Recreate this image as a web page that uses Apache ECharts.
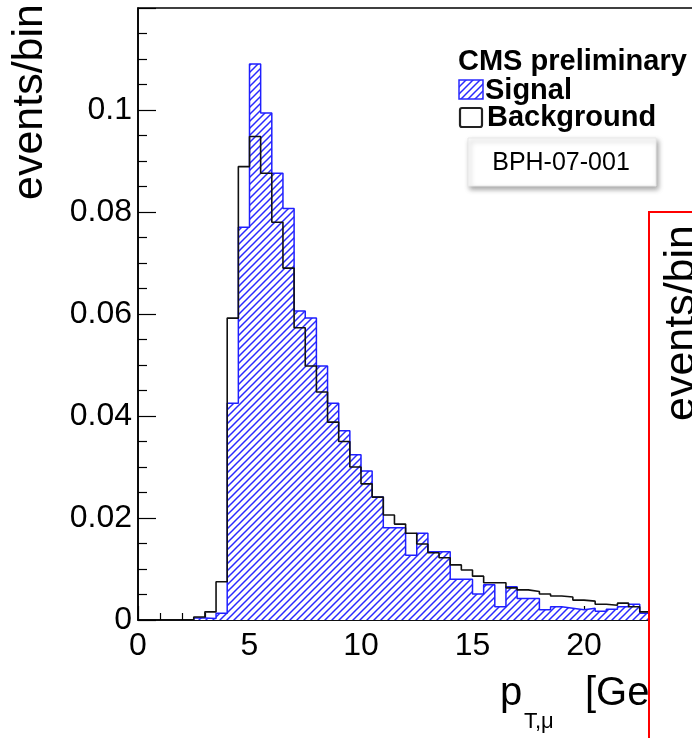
<!DOCTYPE html>
<html>
<head>
<meta charset="utf-8">
<script src="https://cdn.jsdelivr.net/npm/echarts@6/dist/echarts.min.js"></script>
<style>
html,body{margin:0;padding:0;background:#fff;overflow:hidden;width:692px;height:738px;}
#c{width:700px;height:738px;}
</style>
</head>
<body>
<div id="c"></div>
<script>
// ---- data ----
const binEdges = [2.5,3,3.5,4,4.5,5,5.5,6,6.5,7,7.5,8,8.5,9,9.5,10,10.5,11,11.5,12,12.5,13,13.5,14,14.5,15,15.5,16,16.5,17,17.5,18,18.5,19,19.5,20,20.5,21,21.5,22,22.5,23];
const signal = [0.0004,0.0003,0.0013,0.0425,0.077,0.109,0.0994,0.0876,0.0807,0.0606,0.0592,0.0498,0.0425,0.0371,0.0324,0.0292,0.0241,0.0181,0.0181,0.0127,0.0170,0.0134,0.0134,0.0080,0.0080,0.0051,0.0069,0.0026,0.0065,0.0042,0.0042,0.0020,0.0026,0.0023,0.0020,0.0023,0.0017,0.0021,0.0026,0.0031,0.0013];
const background = [0.0006,0.0016,0.0075,0.0592,0.0889,0.0948,0.0876,0.078,0.069,0.0573,0.0498,0.0447,0.0388,0.035,0.030,0.0267,0.0241,0.0206,0.0188,0.017,0.0149,0.0132,0.0122,0.0108,0.0098,0.0086,0.0073,0.0073,0.0063,0.0059,0.0056,0.0051,0.0047,0.0045,0.0039,0.0037,0.0031,0.0029,0.0033,0.0026,0.0016];
const xRange = [0, 25];
const xStep = 5;
const yRange = [0, 0.12];
const yStep = 0.02;
const legendTitle = 'CMS preliminary';
const seriesNames = ['Signal', 'Background'];
const tagText = 'BPH-07-001';
const yTitle = 'events/bin';

const FONT = "'Liberation Sans', Arial, sans-serif";

function histPoints(vals) {
  const pts = [[binEdges[0], 0]];
  vals.forEach((v, i) => pts.push([binEdges[i], v]));
  pts.push([binEdges[vals.length], 0]);
  return pts;
}

function makeHatch(color, size, lw) {
  const c = document.createElement('canvas');
  c.width = size; c.height = size;
  const ctx = c.getContext('2d');
  ctx.fillStyle = '#fff';
  ctx.fillRect(0, 0, size, size);
  ctx.strokeStyle = color; ctx.lineWidth = lw;
  ctx.beginPath();
  ctx.moveTo(-1, size + 1); ctx.lineTo(size + 1, -1);
  ctx.moveTo(-2, 2); ctx.lineTo(2, -2);
  ctx.moveTo(size - 2, size + 2); ctx.lineTo(size + 2, size - 2);
  ctx.stroke();
  return c;
}
const hatch = { image: makeHatch('#2a2aff', 7, 1.5), repeat: 'repeat' };

const chart = echarts.init(document.getElementById('c'), null, { renderer: 'canvas' });

const gridLeft = 138, gridTop = 8, gridW = 557.5, gridH = 612;

chart.setOption({
  animation: false,
  backgroundColor: '#fff',
  grid: { left: gridLeft, top: gridTop, width: gridW, height: gridH, outerBoundsMode: 'none', containLabel: false, show: true, borderColor: '#000', borderWidth: 1.6, backgroundColor: 'transparent' },
  xAxis: {
    type: 'value', min: xRange[0], max: xRange[1], interval: xStep,
    axisLine: { show: true, onZero: false, lineStyle: { color: '#000', width: 1.5 } },
    axisTick: { show: true, inside: true, length: 14, lineStyle: { color: '#000', width: 1.2 } },
    minorTick: { show: true, splitNumber: 5, length: 7, lineStyle: { color: '#000', width: 1.2 } },
    axisLabel: { color: '#000', fontSize: 32, fontFamily: FONT, margin: 10 },
    splitLine: { show: false }
  },
  yAxis: {
    type: 'value', min: yRange[0], max: yRange[1], interval: yStep,
    axisLine: { show: true, lineStyle: { color: '#000', width: 1.5 } },
    axisTick: { show: true, inside: true, length: 18, lineStyle: { color: '#000', width: 1.2 } },
    minorTick: { show: true, splitNumber: 4, length: 9, lineStyle: { color: '#000', width: 1.2 } },
    axisLabel: { color: '#000', fontSize: 32, fontFamily: FONT, margin: 6, showMaxLabel: false },
    splitLine: { show: false }
  },
  series: [
    {
      name: seriesNames[0], type: 'line', step: 'end', symbol: 'none',
      data: histPoints(signal),
      lineStyle: { color: '#1f1fff', width: 1.5 },
      areaStyle: { color: hatch, opacity: 1 },
      z: 2
    },
    {
      name: seriesNames[1], type: 'line', step: 'end', symbol: 'none',
      data: histPoints(background),
      lineStyle: { color: '#111', width: 1.6 },
      z: 3
    }
  ],
  graphic: [
    { type: 'text', z: 50, x: 458, y: 62, style: { text: legendTitle, font: "bold 29px " + FONT, fill: '#000', verticalAlign: 'middle' } },
    { type: 'rect', z: 50, shape: { x: 459, y: 80, width: 24, height: 19 }, style: { fill: hatch, stroke: '#2a2aff', lineWidth: 1.5 } },
    { type: 'text', z: 50, x: 485, y: 90.5, style: { text: seriesNames[0], font: "bold 29px " + FONT, fill: '#000', verticalAlign: 'middle' } },
    { type: 'rect', z: 50, shape: { x: 460, y: 108, width: 22, height: 19, r: 2 }, style: { fill: '#fff', stroke: '#222', lineWidth: 2.2 } },
    { type: 'text', z: 50, x: 487, y: 117.5, style: { text: seriesNames[1], font: "bold 29px " + FONT, fill: '#000', verticalAlign: 'middle' } },
    { type: 'rect', z: 50, shape: { x: 468, y: 138, width: 188, height: 48 }, style: { fill: '#fff', stroke: '#e8e8e8', lineWidth: 1, shadowBlur: 5, shadowOffsetX: 2, shadowOffsetY: 3, shadowColor: 'rgba(0,0,0,0.35)' } },
    { type: 'text', z: 51, x: 561, y: 163, style: { text: tagText, font: "25px " + FONT, fill: '#000', align: 'center', verticalAlign: 'middle' } },
    // y-axis title
    { type: 'text', z: 50, x: 30, y: 4, rotation: Math.PI / 2, style: { text: yTitle, font: "43px " + FONT, fill: '#000', align: 'right', verticalAlign: 'middle' } },
    // x-axis title
    { type: 'text', z: 50, x: 500, y: 693.5, style: { text: 'p', font: "40px " + FONT, fill: '#000', verticalAlign: 'middle' } },
    { type: 'text', z: 50, x: 524, y: 721.5, style: { text: 'T,μ', font: "22px " + FONT, fill: '#000', verticalAlign: 'middle' } },
    { type: 'text', z: 50, x: 585, y: 693.5, style: { text: '[GeV]', font: "40px " + FONT, fill: '#000', verticalAlign: 'middle' } },
    // overlapping red-framed panel on the right
    { type: 'rect', z: 100, shape: { x: 649, y: 212, width: 120, height: 600 }, style: { fill: '#fff', stroke: '#ff0000', lineWidth: 2 } },
    { type: 'text', z: 101, x: 682, y: 225, rotation: Math.PI / 2, style: { text: yTitle, font: "43px " + FONT, fill: '#000', align: 'right', verticalAlign: 'middle' } }
  ]
});
</script>
</body>
</html>
